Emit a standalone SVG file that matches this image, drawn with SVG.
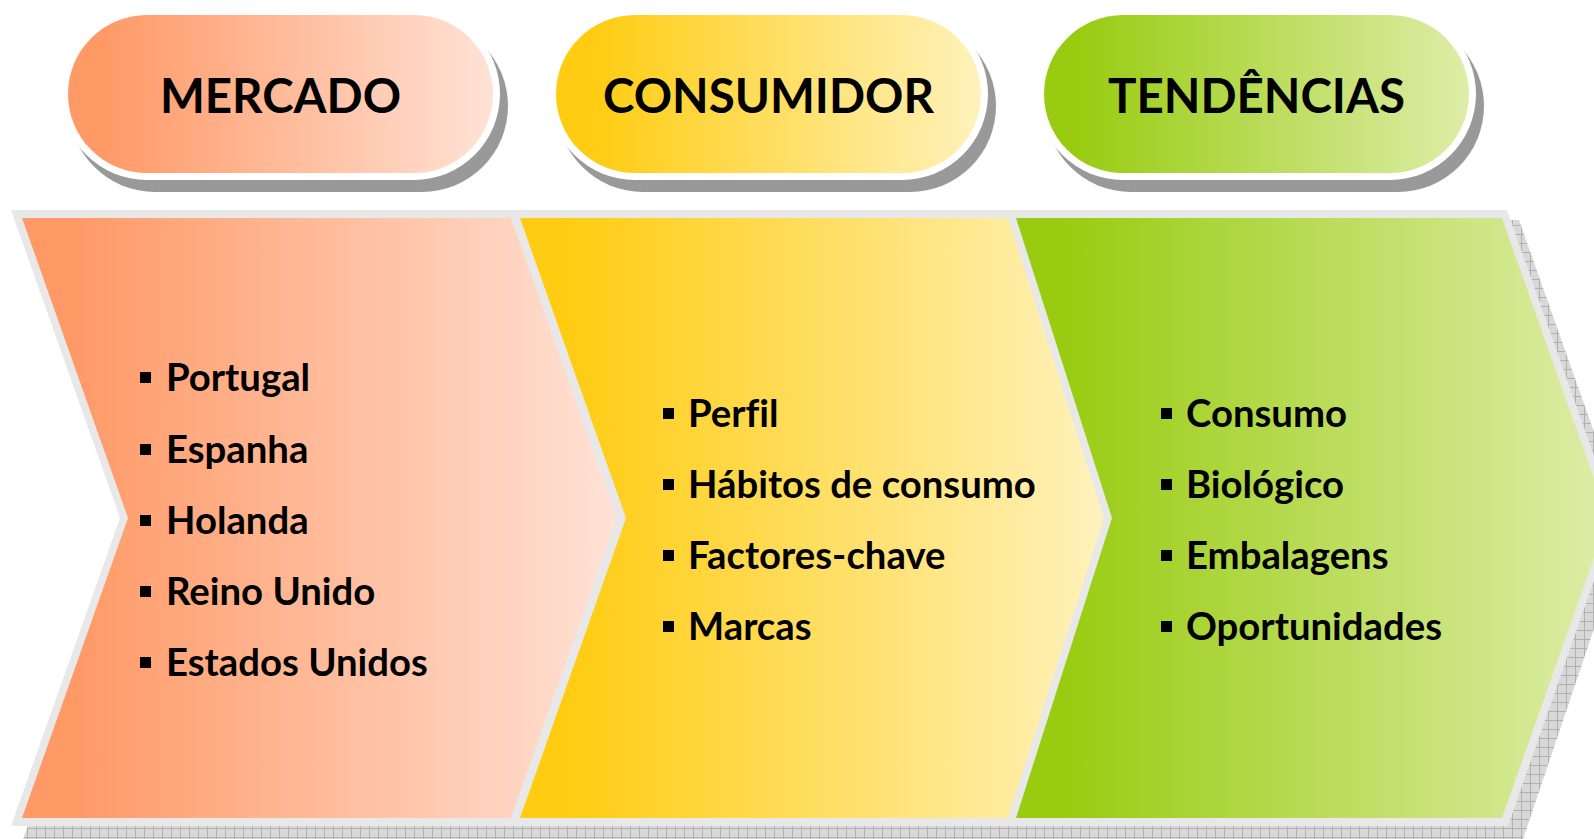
<svg xmlns="http://www.w3.org/2000/svg" width="1594" height="839" viewBox="0 0 1594 839">
<style>
.title{font-family:Lato,"Liberation Sans",sans-serif;font-weight:bold;font-size:47.5px;fill:#000;text-anchor:middle}
.item{font-family:Lato,"Liberation Sans",sans-serif;font-weight:bold;font-size:38.3px;fill:#000;font-variant-ligatures:none;font-feature-settings:"liga" 0}
.bul{fill:#000}
.pshadow{fill:#999}
.pborder{fill:#fff}
</style>
<defs>
<linearGradient id="gO" x1="0" y1="0" x2="1" y2="0"><stop offset="0.08" stop-color="#FF9966"/><stop offset="1" stop-color="#FFE2D6"/></linearGradient>
<linearGradient id="gY" x1="0" y1="0" x2="1" y2="0"><stop offset="0.08" stop-color="#FFCC11"/><stop offset="1" stop-color="#FFF2BC"/></linearGradient>
<linearGradient id="gG" x1="0" y1="0" x2="1" y2="0"><stop offset="0.08" stop-color="#99CC11"/><stop offset="1" stop-color="#DEEDA8"/></linearGradient>
<pattern id="hatch" width="9" height="9" patternUnits="userSpaceOnUse">
<rect width="9" height="9" fill="#d8d8d8"/>
<path d="M0 0.5H9M0.5 0V9" stroke="#b0b0b0" stroke-width="1"/>
</pattern>
</defs>

<g id="header-mercado">
<rect class="pshadow" x="69" y="20" width="439" height="172" rx="86"/>
<rect class="pborder" x="61" y="8" width="439" height="172" rx="86"/>
<rect x="68" y="15" width="425" height="158" rx="79" fill="url(#gO)"/>
<text class="title" x="280.5" y="113">MERCADO</text>
</g>
<g id="header-consumidor">
<rect class="pshadow" x="557" y="20" width="439" height="172" rx="86"/>
<rect class="pborder" x="549" y="8" width="439" height="172" rx="86"/>
<rect x="556" y="15" width="425" height="158" rx="79" fill="url(#gY)"/>
<text class="title" x="768.5" y="113">CONSUMIDOR</text>
</g>
<g id="header-tendencias">
<rect class="pshadow" x="1045" y="20" width="439" height="172" rx="86"/>
<rect class="pborder" x="1037" y="8" width="439" height="172" rx="86"/>
<rect x="1044" y="15" width="425" height="158" rx="79" fill="url(#gG)"/>
<text class="title" x="1256.5" y="113">TENDÊNCIAS</text>
</g>

<g id="chevron-band">
<polygon points="23,220 1519,220 1628,528 1520,848 20,848 132,528" fill="url(#hatch)"/>
<polygon points="11,210 1507,210 1616,518 1508,826 11,826 120,518" fill="#E8E8E8"/>
</g>

<g id="mercado">
<polygon points="22,218 511,218 617,518 511,818 22,818 128,518" fill="url(#gO)"/>
<rect class="bul" x="140" y="372" width="11" height="11"/>
<text class="item" x="166" y="391">Portugal</text>
<rect class="bul" x="140" y="444" width="11" height="11"/>
<text class="item" x="166" y="463">Espanha</text>
<rect class="bul" x="140" y="515" width="11" height="11"/>
<text class="item" x="166" y="534">Holanda</text>
<rect class="bul" x="140" y="586" width="11" height="11"/>
<text class="item" x="166" y="605">Reino Unido</text>
<rect class="bul" x="140" y="657" width="11" height="11"/>
<text class="item" x="166" y="676">Estados Unidos</text>
</g>

<g id="consumidor">
<polygon points="520,218 1008,218 1104,518 1008,818 520,818 626,518" fill="url(#gY)"/>
<rect class="bul" x="663" y="408" width="11" height="11"/>
<text class="item" x="688" y="427">Perfil</text>
<rect class="bul" x="663" y="479" width="11" height="11"/>
<text class="item" x="688" y="498">Hábitos de consumo</text>
<rect class="bul" x="663" y="550" width="11" height="11"/>
<text class="item" x="688" y="569">Factores-chave</text>
<rect class="bul" x="663" y="621" width="11" height="11"/>
<text class="item" x="688" y="640">Marcas</text>
</g>

<g id="tendencias">
<polygon points="1016,218 1502,218 1608,518 1502,818 1016,818 1112,518" fill="url(#gG)"/>
<rect class="bul" x="1161" y="408" width="11" height="11"/>
<text class="item" x="1186" y="427">Consumo</text>
<rect class="bul" x="1161" y="479" width="11" height="11"/>
<text class="item" x="1186" y="498">Biológico</text>
<rect class="bul" x="1161" y="550" width="11" height="11"/>
<text class="item" x="1186" y="569">Embalagens</text>
<rect class="bul" x="1161" y="621" width="11" height="11"/>
<text class="item" x="1186" y="640">Oportunidades</text>
</g>

<g id="connectors"></g>
</svg>
